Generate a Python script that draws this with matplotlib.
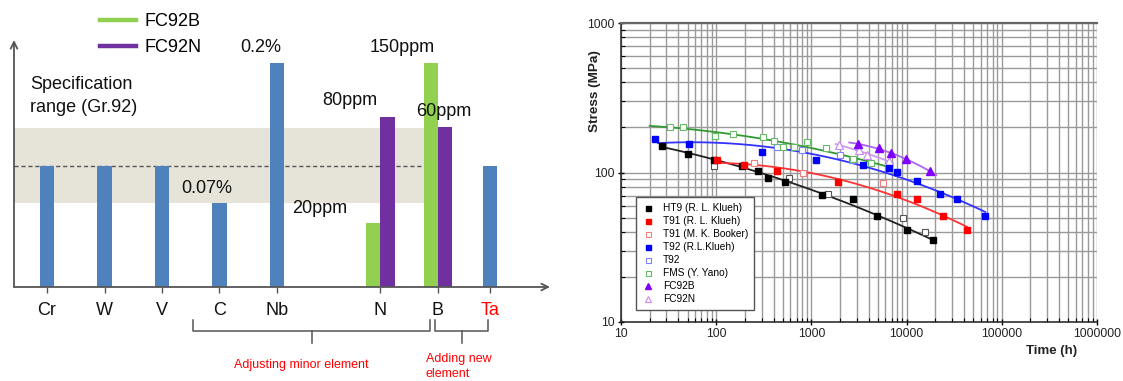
import numpy as np
import matplotlib
matplotlib.use("Agg")
import matplotlib.pyplot as plt
from matplotlib.lines import Line2D
from matplotlib.ticker import LogLocator, FuncFormatter, NullFormatter

plt.rcParams['font.family'] = ['Liberation Sans', 'DejaVu Sans']

# ---------------- Left panel data (relative content, Cr = 1) ----------------
elements = ['Cr', 'W', 'V', 'C', 'Nb', 'N', 'B', 'Ta']
blue_elements = ['Cr', 'W', 'V', 'C', 'Nb', 'Ta']
blue_values = [1.0, 1.0, 1.0, 0.69, 1.85, 1.0]
pair_elements = ['N', 'B']
fc92b_values = [0.53, 1.85]
fc92n_values = [1.40, 1.32]
spec_low, spec_mid, spec_high = 0.69, 1.0, 1.31

# ---------------- Right panel data (time h, stress MPa) ----------------
ht9_t = [27, 50, 95, 185, 277, 353, 528, 1283, 2717, 4930, 10000, 19100]
ht9_s = [151, 133, 122, 110, 102, 92, 87, 71, 66, 51, 41, 35.5]
ht9_other_t = [95, 582, 1507, 9250, 15600]
ht9_other_s = [110, 91.5, 72, 50, 40]
t91k_t = [103, 196, 432, 1918, 7980, 12760, 24300, 42800]
t91k_s = [122, 112, 102, 87, 72, 66, 51, 41]
t91b_t = [251, 822, 5690]
t91b_s = [115, 100, 85]
t92k_t = [22.8, 52, 301, 1117, 3450, 6580, 7870, 12760, 22400, 34100, 67100]
t92k_s = [167, 155, 138, 122, 112, 108, 101, 88, 72, 66, 51]
t92_t = [437, 800, 2005, 2690]
t92_s = [149, 141, 131, 121]
fms_t = [33, 44.5, 97, 149, 313, 405, 507, 656, 906, 1422, 2755, 4196]
fms_s = [201, 203, 176, 181, 174, 163, 148, 149, 159, 145, 124, 115]
fc92b_t = [3050, 5190, 6810, 9790, 17600]
fc92b_s = [155, 145, 134, 123, 102]
fc92n_t = [1970, 3200, 3845, 6520]
fc92n_s = [152, 142, 131, 119]

W, H = 1123, 381
fig = plt.figure(figsize=(W / 100, H / 100), dpi=100)


def px_axes(l, t, r, b):
    return fig.add_axes([l / W, 1 - b / H, (r - l) / W, (b - t) / H])


# ======================= LEFT PANEL =======================
ax1 = px_axes(14, 40, 550, 287)
pos = {'Cr': 0, 'W': 1, 'V': 2, 'C': 3, 'Nb': 4, 'N': 5.8, 'B': 6.8, 'Ta': 7.7}
xl0, xl1 = -0.574, 8.748
ax1.set_xlim(xl0, xl1)
ax1.set_ylim(0, 2.04)
for sp in ax1.spines.values():
    sp.set_visible(False)

axis_col = '#555555'
ax1.annotate('', xy=(0, 1), xytext=(0, 0), xycoords='axes fraction',
             arrowprops=dict(arrowstyle='->', color=axis_col, lw=1.3,
                             shrinkA=0, shrinkB=0, mutation_scale=12))
ax1.annotate('', xy=(1, 0), xytext=(0, 0), xycoords='axes fraction',
             arrowprops=dict(arrowstyle='->', color=axis_col, lw=1.3,
                             shrinkA=0, shrinkB=0, mutation_scale=12))

band_end = 6.66
ax1.fill_between([xl0, band_end], spec_low, spec_high, color='#e6e3d8',
                 lw=0, zorder=0)
ax1.plot([xl0, band_end], [spec_mid, spec_mid], ls=(0, (3, 2)),
         color='#555555', lw=1.0, zorder=1)

bw = 0.245
blue_x = [pos[e] for e in blue_elements]
pair_x = np.array([pos[e] for e in pair_elements])
ax1.bar(blue_x, blue_values, width=bw, color='#4f81bd', zorder=2)
ax1.bar(pair_x - bw / 2, fc92b_values, width=bw, color='#92d050', zorder=2)
ax1.bar(pair_x + bw / 2, fc92n_values, width=bw, color='#7030a0', zorder=2)

ax1.set_xticks([pos[e] for e in elements])
ax1.set_xticklabels(elements)
ax1.set_yticks([])
ax1.tick_params(axis='x', length=4.5, width=1, color=axis_col,
                labelsize=13, pad=6, labelcolor='#111111')
ax1.get_xticklabels()[-1].set_color('#ff0000')

lab_kw = dict(textcoords='offset points', ha='center', va='center',
              fontsize=13, color='#111111')
ax1.annotate('0.07%', (pos['C'], blue_values[3]), xytext=(-9, 11), **lab_kw)
ax1.annotate('0.2%', (pos['Nb'], blue_values[4]), xytext=(-11.5, 11), **lab_kw)
ax1.annotate('80ppm', (pair_x[0] + bw / 2, fc92n_values[0]), xytext=(-27, 12), **lab_kw)
ax1.annotate('20ppm', (pair_x[0] - bw / 2, fc92b_values[0]), xytext=(-39, 10.5), **lab_kw)
ax1.annotate('150ppm', (pair_x[1] - bw / 2, fc92b_values[1]), xytext=(-21, 11), **lab_kw)
ax1.annotate('60ppm', (pair_x[1] + bw / 2, fc92n_values[1]), xytext=(-1, 11), **lab_kw)

ax1.text(-0.3, 1.745, 'Specification\nrange (Gr.92)', fontsize=13,
         ha='left', va='top', linespacing=1.5, color='#111111')

# braces below axis
bt = ax1.get_xaxis_transform()
def brace(x0, x1, xc):
    y0, y1, y2 = -0.134, -0.180, -0.225
    ax1.plot([x0, x0, x1, x1], [y0, y1, y1, y0], color=axis_col, lw=1.1,
             transform=bt, clip_on=False)
    ax1.plot([xc, xc], [y1, y2], color=axis_col, lw=1.1, transform=bt,
             clip_on=False)

brace(2.54, 6.66, 4.61)
brace(6.75, 7.67, 7.22)
ax1.text(4.43, -0.316, 'Adjusting minor element', color='#ff0000',
         fontsize=9, ha='center', va='center', transform=bt)
ax1.text(6.59, -0.322, 'Adding new\nelement', color='#ff0000',
         fontsize=9, ha='left', va='center', transform=bt, linespacing=1.25)

leg_handles = [Line2D([], [], color='#92d050', lw=3.2),
               Line2D([], [], color='#7030a0', lw=3.2)]
fig.legend(leg_handles, ['FC92B', 'FC92N'], loc='upper left',
           bbox_to_anchor=(100 / W, 1 - 13 / H), frameon=False, fontsize=13,
           handlelength=2.0, handletextpad=0.45, labelspacing=0.5,
           borderpad=0, borderaxespad=0)

# ======================= RIGHT PANEL =======================
ax2 = px_axes(621, 23, 1097, 322)
ax2.set_xscale('log')
ax2.set_yscale('log')
ax2.set_xlim(10, 1e6)
ax2.set_ylim(10, 1000)
ax2.xaxis.set_major_locator(LogLocator(base=10, numticks=10))
ax2.xaxis.set_minor_locator(LogLocator(base=10, subs=np.arange(2, 10), numticks=20))
ax2.yaxis.set_major_locator(LogLocator(base=10, numticks=10))
ax2.yaxis.set_minor_locator(LogLocator(base=10, subs=np.arange(2, 10), numticks=20))
fmt = FuncFormatter(lambda v, p: f'{v:.0f}')
ax2.xaxis.set_major_formatter(fmt)
ax2.yaxis.set_major_formatter(fmt)
ax2.xaxis.set_minor_formatter(NullFormatter())
ax2.yaxis.set_minor_formatter(NullFormatter())
ax2.grid(which='both', color='#9a9a9a', lw=1.0)
ax2.set_axisbelow(True)
ax2.tick_params(which='major', direction='inout', length=5, width=1,
                labelsize=8.7, labelcolor='#222222', pad=2)
ax2.tick_params(which='minor', direction='in', length=3, width=0.8)
ax2.spines['right'].set_visible(False)
ax2.spines['top'].set_color('#666666')
ax2.spines['top'].set_linewidth(1.6)
for s in ('left', 'bottom'):
    ax2.spines[s].set_color('#222222')
    ax2.spines[s].set_linewidth(1.1)


def fit_line(t, s, t0, t1, color):
    lt, ls_ = np.log10(t), np.log10(s)
    c = np.polyfit(lt, ls_, 2)
    xx = np.linspace(np.log10(t0), np.log10(t1), 100)
    ax2.plot(10 ** xx, 10 ** np.polyval(c, xx), color=color, lw=1.3, zorder=2)


fit_line(ht9_t, ht9_s, 26, 19500, '#222222')
fit_line(t91k_t, t91k_s, 97, 43000, '#ff3333')
fit_line(t92k_t, t92k_s, 24.5, 67000, '#3333ff')
fit_line(fms_t, fms_s, 20, 6600, '#339933')
fit_line(fc92b_t, fc92b_s, 2500, 20500, '#aa66ee')
fit_line(fc92n_t, fc92n_s, 1800, 7200, '#cc99ee')

ms = 4.5
ax2.plot(ht9_other_t, ht9_other_s, 's', ms=ms, mfc='white', mec='#555555', mew=0.8, zorder=3)
ax2.plot(ht9_t, ht9_s, 's', ms=ms, color='black', label='HT9 (R. L. Klueh)', zorder=4)
ax2.plot(t91k_t, t91k_s, 's', ms=ms, color='#ff0000', label='T91 (R. L. Klueh)', zorder=4)
ax2.plot(t91b_t, t91b_s, 's', ms=ms, mfc='white', mec='#f08080', mew=0.8, label='T91 (M. K. Booker)', zorder=3)
ax2.plot(t92k_t, t92k_s, 's', ms=ms, color='#0000ff', label='T92 (R.L.Klueh)', zorder=4)
ax2.plot(t92_t, t92_s, 's', ms=ms, mfc='white', mec='#8080ff', mew=0.8, label='T92', zorder=3)
ax2.plot(fms_t, fms_s, 's', ms=ms, mfc='white', mec='#66bb66', mew=0.8, label='FMS (Y. Yano)', zorder=3)
ax2.plot(fc92b_t, fc92b_s, '^', ms=ms + 1, color='#8000ff', label='FC92B', zorder=4)
ax2.plot(fc92n_t, fc92n_s, '^', ms=ms + 1, mfc='white', mec='#cc88ee', mew=0.8, label='FC92N', zorder=3)

leg = ax2.legend(loc='upper left', bbox_to_anchor=(635.5 / W, 1 - 197 / H),
                 bbox_transform=fig.transFigure, fontsize=7.3, frameon=True,
                 fancybox=False, edgecolor='#555555', framealpha=1,
                 labelspacing=0.3, handlelength=1.2, handletextpad=0.9,
                 borderpad=0.6, borderaxespad=0, markerscale=0.8)
leg.get_frame().set_linewidth(1.0)

fig.text(1052 / W, 1 - 351 / H, 'Time (h)', fontsize=9.5, fontweight='bold',
         ha='center', va='center', color='#222222')
fig.text(595 / W, 1 - 91 / H, 'Stress (MPa)', fontsize=9.7, fontweight='bold',
         ha='center', va='center', rotation=90, color='#222222')

fig.savefig('out.png', dpi=100)
